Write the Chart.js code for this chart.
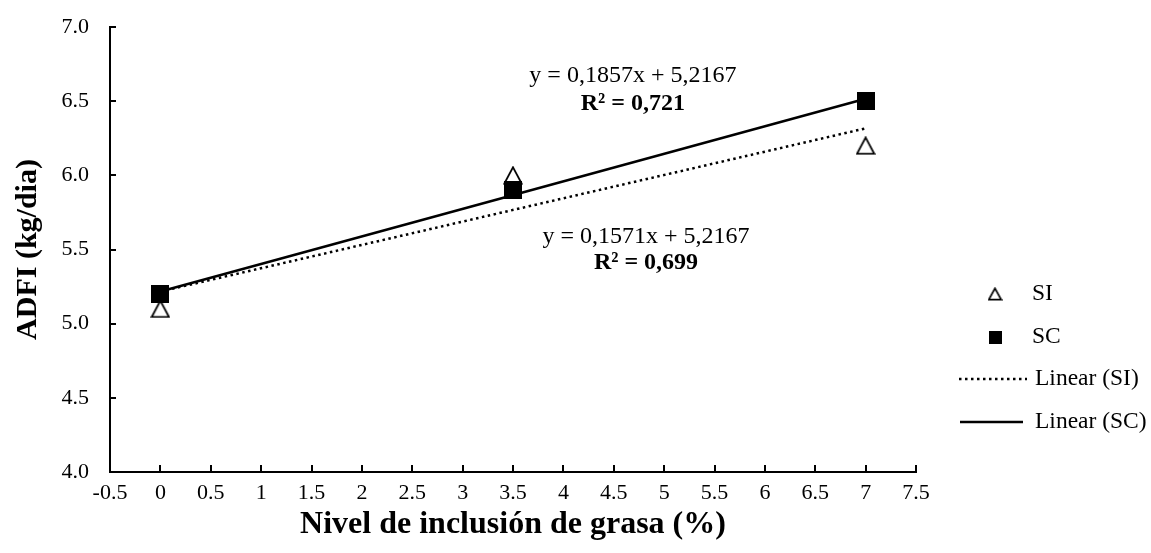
<!DOCTYPE html>
<html>
<head>
<meta charset="utf-8">
<script src="https://cdn.jsdelivr.net/npm/chart.js@4/dist/chart.umd.min.js"></script>
<style>
  html, body { margin: 0; padding: 0; background: #fff; }
  #wrap { width: 1151px; height: 553px; position: relative; }
</style>
</head>
<body>
<div id="wrap"><canvas id="c" width="1151" height="553"></canvas></div>
<script>
// ---- data ----
const xLevels = [0, 3.5, 7];
const siValues = [5.1, 6.0, 6.2];
const scValues = [5.2, 5.9, 6.5];
const seriesLabels = ['SI', 'SC'];
const trendLabels = ['Linear (SI)', 'Linear (SC)'];
const eqSI = ['y = 0,1571x + 5,2167', 'R² = 0,699'];
const eqSC = ['y = 0,1857x + 5,2167', 'R² = 0,721'];
const xTitle = 'Nivel de inclusión de grasa (%)';
const yTitle = 'ADFI (kg/dia)';

// least squares fit of a series
function fit(xs, ys) {
  const n = xs.length;
  const mx = xs.reduce((a, b) => a + b, 0) / n;
  const my = ys.reduce((a, b) => a + b, 0) / n;
  let sxy = 0, sxx = 0;
  for (let i = 0; i < n; i++) { sxy += (xs[i] - mx) * (ys[i] - my); sxx += (xs[i] - mx) ** 2; }
  const m = sxy / sxx, b = my - m * mx;
  const x0 = Math.min(...xs), x1 = Math.max(...xs);
  return [{x: x0, y: m * x0 + b}, {x: x1, y: m * x1 + b}];
}

function triangleCanvas(w, h, lw) {
  const c = document.createElement('canvas');
  c.width = w; c.height = h;
  const g = c.getContext('2d');
  g.beginPath();
  g.moveTo(w / 2, lw / 2 + 0.5);
  g.lineTo(w - lw / 2 - 0.5, h - lw / 2 - 0.5);
  g.lineTo(lw / 2 + 0.5, h - lw / 2 - 0.5);
  g.closePath();
  g.fillStyle = '#fff'; g.fill();
  g.lineWidth = lw; g.strokeStyle = '#000'; g.lineJoin = 'miter'; g.stroke();
  return c;
}
function squareCanvas(s) {
  const c = document.createElement('canvas');
  c.width = s; c.height = s;
  const g = c.getContext('2d');
  g.fillStyle = '#000'; g.fillRect(0, 0, s, s);
  return c;
}

const triBig = triangleCanvas(20, 19, 1.8);
const sqBig = squareCanvas(18);
const triSmall = triangleCanvas(15, 14, 1.7);
const sqSmall = squareCanvas(13);

const SERIF = "'Liberation Serif', 'Times New Roman', serif";

const innerTicks = {
  id: 'innerTicks',
  afterDatasetsDraw(chart) {
    const {ctx, scales: {x, y}} = chart;
    ctx.save();
    ctx.strokeStyle = '#000';
    ctx.lineWidth = 2;
    ctx.beginPath();
    x.ticks.forEach(t => {
      const px = Math.round(x.getPixelForValue(t.value));
      ctx.moveTo(px, y.bottom);
      ctx.lineTo(px, y.bottom - 7);
    });
    y.ticks.forEach(t => {
      const py = Math.round(y.getPixelForValue(t.value));
      ctx.moveTo(x.left, py);
      ctx.lineTo(x.left + 6, py);
    });
    ctx.stroke();
    ctx.restore();
  }
};

const annotations = {
  id: 'annotations',
  afterDatasetsDraw(chart) {
    const {ctx, scales: {x, y}} = chart;
    ctx.save();
    ctx.fillStyle = '#000';
    ctx.textAlign = 'center';
    ctx.textBaseline = 'middle';
    const put = (lines, xv, yv1, yv2) => {
      ctx.font = `24px ${SERIF}`;
      ctx.fillText(lines[0], x.getPixelForValue(xv), y.getPixelForValue(yv1));
      ctx.font = `bold 24px ${SERIF}`;
      ctx.fillText(lines[1], x.getPixelForValue(xv), y.getPixelForValue(yv2));
    };
    put(eqSC, 4.69, 6.675, 6.48);
    put(eqSI, 4.82, 5.585, 5.41);
    ctx.restore();
  }
};

const sideLegend = {
  id: 'sideLegend',
  afterDraw(chart) {
    const {ctx} = chart;
    ctx.save();
    ctx.fillStyle = '#000';
    ctx.textAlign = 'left';
    ctx.textBaseline = 'middle';
    ctx.font = `23.5px ${SERIF}`;
    // markers
    ctx.drawImage(triSmall, 995 - triSmall.width / 2, 294 - triSmall.height / 2);
    ctx.fillText(seriesLabels[0], 1032, 294);
    ctx.drawImage(sqSmall, 995 - sqSmall.width / 2, 337 - sqSmall.height / 2);
    ctx.fillText(seriesLabels[1], 1032, 337);
    // lines
    ctx.strokeStyle = '#000';
    ctx.lineWidth = 2.5;
    ctx.setLineDash([2.5, 3.5]);
    ctx.beginPath(); ctx.moveTo(959, 379); ctx.lineTo(1027, 379); ctx.stroke();
    ctx.setLineDash([]);
    ctx.beginPath(); ctx.moveTo(960, 422); ctx.lineTo(1023, 422); ctx.stroke();
    ctx.fillText(trendLabels[0], 1035, 379);
    ctx.fillText(trendLabels[1], 1035, 422);
    ctx.restore();
  }
};

const toPts = (xs, ys) => xs.map((v, i) => ({x: v, y: ys[i]}));

new Chart(document.getElementById('c'), {
  type: 'scatter',
  data: {
    datasets: [
      {
        label: trendLabels[1], type: 'line', data: fit(xLevels, scValues),
        borderColor: '#000', borderWidth: 2.5, pointRadius: 0, fill: false, order: 3
      },
      {
        label: trendLabels[0], type: 'line', data: fit(xLevels, siValues),
        borderColor: '#000', borderWidth: 2.5, borderDash: [2.5, 3.5], pointRadius: 0, fill: false, order: 4
      },
      {
        label: seriesLabels[0], data: toPts(xLevels, siValues),
        pointStyle: triBig, pointRadius: 10, order: 2
      },
      {
        label: seriesLabels[1], data: toPts(xLevels, scValues),
        pointStyle: sqBig, pointRadius: 9, order: 1
      }
    ]
  },
  options: {
    responsive: false,
    animation: false,
    events: [],
    layout: { padding: { top: 27, right: 235, bottom: 0, left: 0 } },
    plugins: { legend: { display: false }, tooltip: { enabled: false } },
    scales: {
      x: {
        type: 'linear', min: -0.5, max: 7.5,
        afterFit(s) { s.height = 81; s.paddingLeft = 0; s.paddingRight = 0; },
        grid: { display: false, drawTicks: false },
        border: { display: true, color: '#000', width: 2 },
        ticks: { stepSize: 0.5, color: '#000', padding: 8, font: { family: SERIF, size: 22 }, maxRotation: 0, autoSkip: false, callback: v => String(v) },
        title: { display: true, text: xTitle, color: '#000', padding: { top: 0, bottom: 9 }, font: { family: SERIF, size: 32, weight: 'bold' } }
      },
      y: {
        type: 'linear', min: 4, max: 7,
        afterFit(s) { s.width = 110; s.paddingTop = 0; s.paddingBottom = 0; },
        grid: { display: false, drawTicks: false },
        border: { display: true, color: '#000', width: 2 },
        ticks: { stepSize: 0.5, color: '#000', padding: 21, font: { family: SERIF, size: 22 }, callback: v => v.toFixed(1) },
        title: { display: true, text: yTitle, color: '#000', padding: { top: 10, bottom: 0 }, font: { family: SERIF, size: 30, weight: 'bold' } }
      }
    }
  },
  plugins: [innerTicks, annotations, sideLegend]
});
</script>
</body>
</html>
